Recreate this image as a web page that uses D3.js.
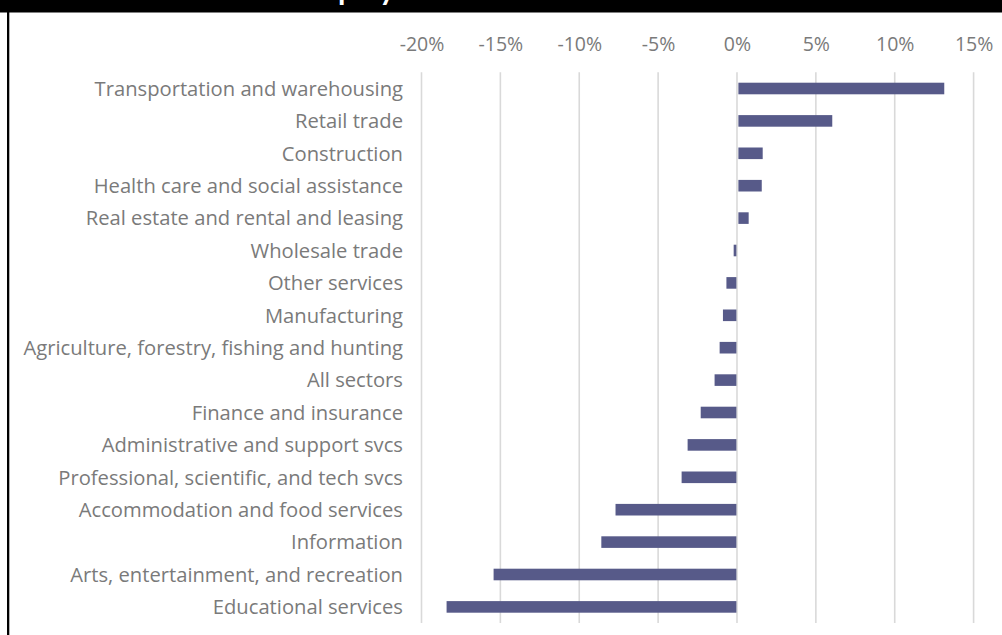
<!DOCTYPE html>
<html>
<head>
<meta charset="utf-8">
<script src="https://cdn.jsdelivr.net/npm/d3@7"></script>
<style>
  body { margin: 0; background: #fff; }
  svg { display: block; }
</style>
</head>
<body>
<div id="chart"></div>
<script>
// Categories, top to bottom
const sectors = [
  'Transportation and warehousing',
  'Retail trade',
  'Construction',
  'Health care and social assistance',
  'Real estate and rental and leasing',
  'Wholesale trade',
  'Other services',
  'Manufacturing',
  'Agriculture, forestry, fishing and hunting',
  'All sectors',
  'Finance and insurance',
  'Administrative and support svcs',
  'Professional, scientific, and tech svcs',
  'Accommodation and food services',
  'Information',
  'Arts, entertainment, and recreation',
  'Educational services'
]

// Change in share (fraction)
const changes = [
  0.1314, 0.0604, 0.0163, 0.0157, 0.0074, -0.0021, -0.0067, -0.0089,
  -0.0110, -0.0142, -0.0230, -0.0313, -0.0351, -0.0770, -0.0860,
  -0.1543, -0.1841
]

const ticks = [-0.20, -0.15, -0.10, -0.05, 0, 0.05, 0.10, 0.15]

const width = 1002
const height = 635
const font = '"Open Sans", sans-serif'

let svg = d3.select('#chart').append('svg')
  .attr('width', width)
  .attr('height', height)

// Black title band and left frame
svg.append('rect')
  .attr('x', 0).attr('y', 0)
  .attr('width', width).attr('height', 12.5)
  .attr('fill', '#000')
svg.append('rect')
  .attr('x', 7).attr('y', 0)
  .attr('width', 2.3).attr('height', height)
  .attr('fill', '#000')

// Title, mostly cut off at the top edge
svg.append('text')
  .attr('x', 296)
  .attr('y', 0)
  .attr('fill', '#fff')
  .style('font-family', 'Lato, sans-serif')
  .style('font-weight', 'bold')
  .style('font-size', '30px')
  .text('Employment')

// Scales
let x = d3.scaleLinear()
  .domain([-0.20, 0.15])
  .range([421.5, 973.6])

let y = d3.scaleBand()
  .domain(sectors)
  .range([72.3, 623.1])
  .paddingInner(0.642)
  .paddingOuter(0.321)

// Gridlines
svg.append('g')
  .selectAll('line')
  .data(ticks)
  .enter()
  .append('line')
  .attr('x1', d => x(d))
  .attr('x2', d => x(d))
  .attr('y1', 72.3)
  .attr('y2', 623.1)
  .attr('stroke', '#d9d9d9')
  .attr('stroke-width', 1.6)

// Top axis labels
let axis = svg.append('g')
  .attr('transform', 'translate(0, 51)')
  .call(d3.axisTop(x).tickValues(ticks).tickSize(0).tickPadding(0))
axis.select('.domain').remove()
axis.selectAll('text')
  .text(d => d3.format('.0%')(d).replace('−', '-'))
  .attr('fill', '#7a7a7a')
  .style('font-family', font)
  .style('font-size', '19.5px')

// Bars
svg.append('g')
  .selectAll('rect')
  .data(changes)
  .enter()
  .append('rect')
  .attr('x', d => x(Math.min(0, d)) + (d > 0 ? 1.4 : 0))
  .attr('y', (d, i) => y(sectors[i]))
  .attr('width', d => Math.abs(x(d) - x(0)) - (d > 0 ? 1.4 : 0.6))
  .attr('height', y.bandwidth())
  .attr('fill', '#575a89')

// Category labels
svg.append('g')
  .selectAll('text')
  .data(sectors)
  .enter()
  .append('text')
  .attr('x', 403)
  .attr('y', d => y(d) + y.bandwidth() / 2)
  .attr('dy', '0.36em')
  .attr('text-anchor', 'end')
  .attr('fill', '#7a7a7a')
  .style('font-family', font)
  .style('font-size', '20.2px')
  .text(d => d)
</script>
</body>
</html>
